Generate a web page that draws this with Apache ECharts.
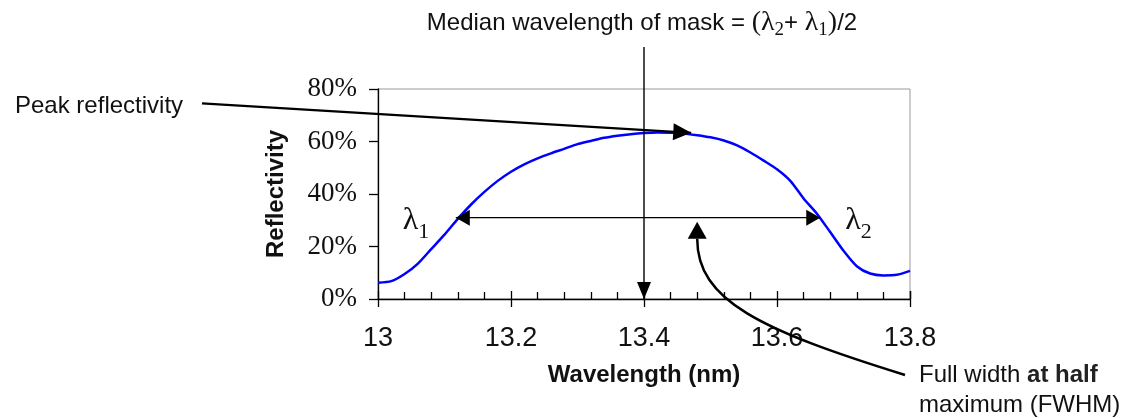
<!DOCTYPE html>
<html><head><meta charset="utf-8">
<script src="https://cdn.jsdelivr.net/npm/echarts/dist/echarts.min.js"></script>
<style>html,body{margin:0;padding:0;background:#fff}#c{width:1125px;height:418px}</style>
</head><body><div id="c"></div>
<script>
// ---- data ----
const wavelength = [13.00,13.02,13.04,13.06,13.08,13.10,13.12,13.14,13.16,13.18,13.20,13.22,13.24,13.26,13.28,13.30,13.32,13.34,13.36,13.38,13.40,13.42,13.44,13.46,13.48,13.50,13.52,13.54,13.56,13.58,13.60,13.62,13.64,13.66,13.68,13.70,13.72,13.74,13.76,13.78,13.80];
const reflectivity = [6.2,6.8,9.5,13.5,19.0,24.5,30.5,36.0,40.8,45.0,48.5,51.3,53.6,55.5,57.2,59.0,60.2,61.4,62.2,62.8,63.2,63.4,63.3,63.0,62.4,61.6,60.4,58.5,55.8,52.7,49.4,45.0,38.3,32.5,25.5,18.4,12.5,9.7,9.0,9.2,10.7];
const xTickValues = [13, 13.2, 13.4, 13.6, 13.8];
const xTickLabels = ['13', '13.2', '13.4', '13.6', '13.8'];
const yTickValues = [0, 20, 40, 60, 80];
const yTickLabels = ['0%', '20%', '40%', '60%', '80%'];
const lambda1 = 13.117, lambda2 = 13.665, halfMax = 31;
const peakPoint = [13.471, 63.3];
const medianWavelength = 13.4;
const fwhmPointerX = 13.48;

const SANS = '"Liberation Sans", Arial, sans-serif';
const SERIF = '"Liberation Serif", "Times New Roman", serif';
const chart = echarts.init(document.getElementById('c'));
const tickStyle = {color: '#000', width: 1.3};
const xMin = xTickValues[0], xMax = xTickValues[xTickValues.length - 1], xInt = xTickValues[1] - xTickValues[0];

chart.setOption({
  animation: false,
  backgroundColor: '#fff',
  grid: {left: 378, right: 215, top: 89, bottom: 119, show: true, borderColor: '#999', borderWidth: 1, backgroundColor: 'transparent'},
  xAxis: [
    {type: 'value', min: xMin, max: xMax, interval: xInt, position: 'bottom',
     axisLine: {show: true, onZero: false, lineStyle: tickStyle},
     axisTick: {show: true, inside: false, length: 8, lineStyle: tickStyle},
     axisLabel: {margin: 26, fontSize: 27, fontFamily: SANS, color: '#111',
       formatter: v => { const i = xTickValues.findIndex(t => Math.abs(t - v) < 1e-6); return i >= 0 ? xTickLabels[i] : ''; }},
     splitLine: {show: false},
     name: 'Wavelength (nm)', nameLocation: 'middle', nameGap: 64,
     nameTextStyle: {fontFamily: SANS, fontSize: 24, fontWeight: 'bold', color: '#111'}},
    {type: 'value', min: xMin, max: xMax, interval: xInt, position: 'bottom',
     axisLine: {show: false}, axisLabel: {show: false}, splitLine: {show: false},
     axisTick: {show: true, inside: true, length: 8, lineStyle: tickStyle},
     minorTick: {show: true, splitNumber: 5, length: 7, lineStyle: tickStyle}}
  ],
  yAxis: [
    {type: 'value', min: yTickValues[0], max: yTickValues[yTickValues.length - 1], interval: yTickValues[1] - yTickValues[0],
     axisLine: {show: true, lineStyle: tickStyle},
     axisTick: {show: true, inside: false, length: 9, lineStyle: tickStyle},
     axisLabel: {margin: 21, fontSize: 27, fontFamily: SERIF, color: '#111',
       formatter: v => { const i = yTickValues.indexOf(v); return i >= 0 ? yTickLabels[i] : ''; }},
     splitLine: {show: false},
     name: 'Reflectivity', nameLocation: 'middle', nameGap: 90, nameRotate: 90,
     nameTextStyle: {fontFamily: SANS, fontSize: 24, fontWeight: 'bold', color: '#111'}}
  ],
  series: [{
    type: 'line', xAxisIndex: 0, yAxisIndex: 0,
    data: wavelength.map((x, i) => [x, reflectivity[i]]),
    showSymbol: false, smooth: 0.25,
    lineStyle: {color: '#0000ff', width: 2.5}, z: 3
  }]
});

const P = (x, y) => chart.convertToPixel({seriesIndex: 0}, [x, y]);
function head(tip, from, len, wid) {
  const dx = tip[0] - from[0], dy = tip[1] - from[1], d = Math.hypot(dx, dy);
  const ux = dx / d, uy = dy / d, bx = tip[0] - ux * len, by = tip[1] - uy * len;
  return {type: 'polygon', silent: true, z: 20,
    shape: {points: [tip, [bx - uy * wid / 2, by + ux * wid / 2], [bx + uy * wid / 2, by - ux * wid / 2]]},
    style: {fill: '#000'}};
}
function seg(a, b, w) {
  return {type: 'line', silent: true, z: 19, shape: {x1: a[0], y1: a[1], x2: b[0], y2: b[1]}, style: {stroke: '#000', lineWidth: w}};
}

const l1 = P(lambda1, halfMax), l2 = P(lambda2, halfMax);
const pk = P(peakPoint[0], peakPoint[1]);
const medBottom = P(medianWavelength, 0), medTop = [medBottom[0], 47];
const peakStart = [202, 103.3];
const fTip = [P(fwhmPointerX, halfMax)[0], l1[1] + 4];
const fEnd = [fTip[0], fTip[1] + 17];

const g = [
  seg(peakStart, pk, 2.3), head(pk, peakStart, 18, 17),
  seg(medTop, medBottom, 1.4), head(medBottom, medTop, 17, 14),
  seg(l1, l2, 1.4), head(l1, l2, 14, 16), head(l2, l1, 14, 16),
  {type: 'bezierCurve', silent: true, z: 19,
   shape: {x1: 905, y1: 375, cpx1: 760, cpy1: 330, cpx2: fEnd[0], cpy2: fEnd[1] + 62, x2: fEnd[0], y2: fEnd[1]},
   style: {stroke: '#000', lineWidth: 2.5, fill: null}},
  head(fTip, fEnd, 17, 19),
  {type: 'text', silent: true, z: 21, x: 642, y: 23,
   style: {text: '{a|Median wavelength of mask = }{s|(λ}{b|2}{a|+ }{s|λ}{b|1}{s|)}{a|/2}', align: 'center', verticalAlign: 'middle',
     rich: {a: {fontFamily: SANS, fontSize: 24, lineHeight: 34, fill: '#111'},
            s: {fontFamily: SERIF, fontSize: 28, lineHeight: 34, fill: '#111'},
            b: {fontFamily: SERIF, fontSize: 19, lineHeight: 18, verticalAlign: 'bottom', fill: '#111'}}}},
  {type: 'text', silent: true, z: 21, x: 15, y: 106.7,
   style: {text: 'Peak reflectivity', fontFamily: SANS, fontSize: 24, fill: '#111', align: 'left', verticalAlign: 'middle'}},
  {type: 'text', silent: true, z: 21, x: 919, y: 360,
   style: {text: '{a|Full width }{b|at half}\n{a|maximum (FWHM)}', align: 'left', verticalAlign: 'top',
     rich: {a: {fontFamily: SANS, fontSize: 24, lineHeight: 30, fill: '#111'},
            b: {fontFamily: SANS, fontSize: 24, fontWeight: 'bold', lineHeight: 30, fill: '#222'}}}},
  {type: 'text', silent: true, z: 21, x: l1[0] - 53, y: 199,
   style: {text: '{l|λ}{s|1}', align: 'left', verticalAlign: 'top',
     rich: {l: {fontFamily: SERIF, fontSize: 32, lineHeight: 44, fill: '#111'},
            s: {fontFamily: SERIF, fontSize: 22, lineHeight: 16, verticalAlign: 'bottom', fill: '#111'}}}},
  {type: 'text', silent: true, z: 21, x: l2[0] + 25, y: 199,
   style: {text: '{l|λ}{s|2}', align: 'left', verticalAlign: 'top',
     rich: {l: {fontFamily: SERIF, fontSize: 32, lineHeight: 44, fill: '#111'},
            s: {fontFamily: SERIF, fontSize: 22, lineHeight: 16, verticalAlign: 'bottom', fill: '#111'}}}}
];
chart.setOption({graphic: g});
</script></body></html>
